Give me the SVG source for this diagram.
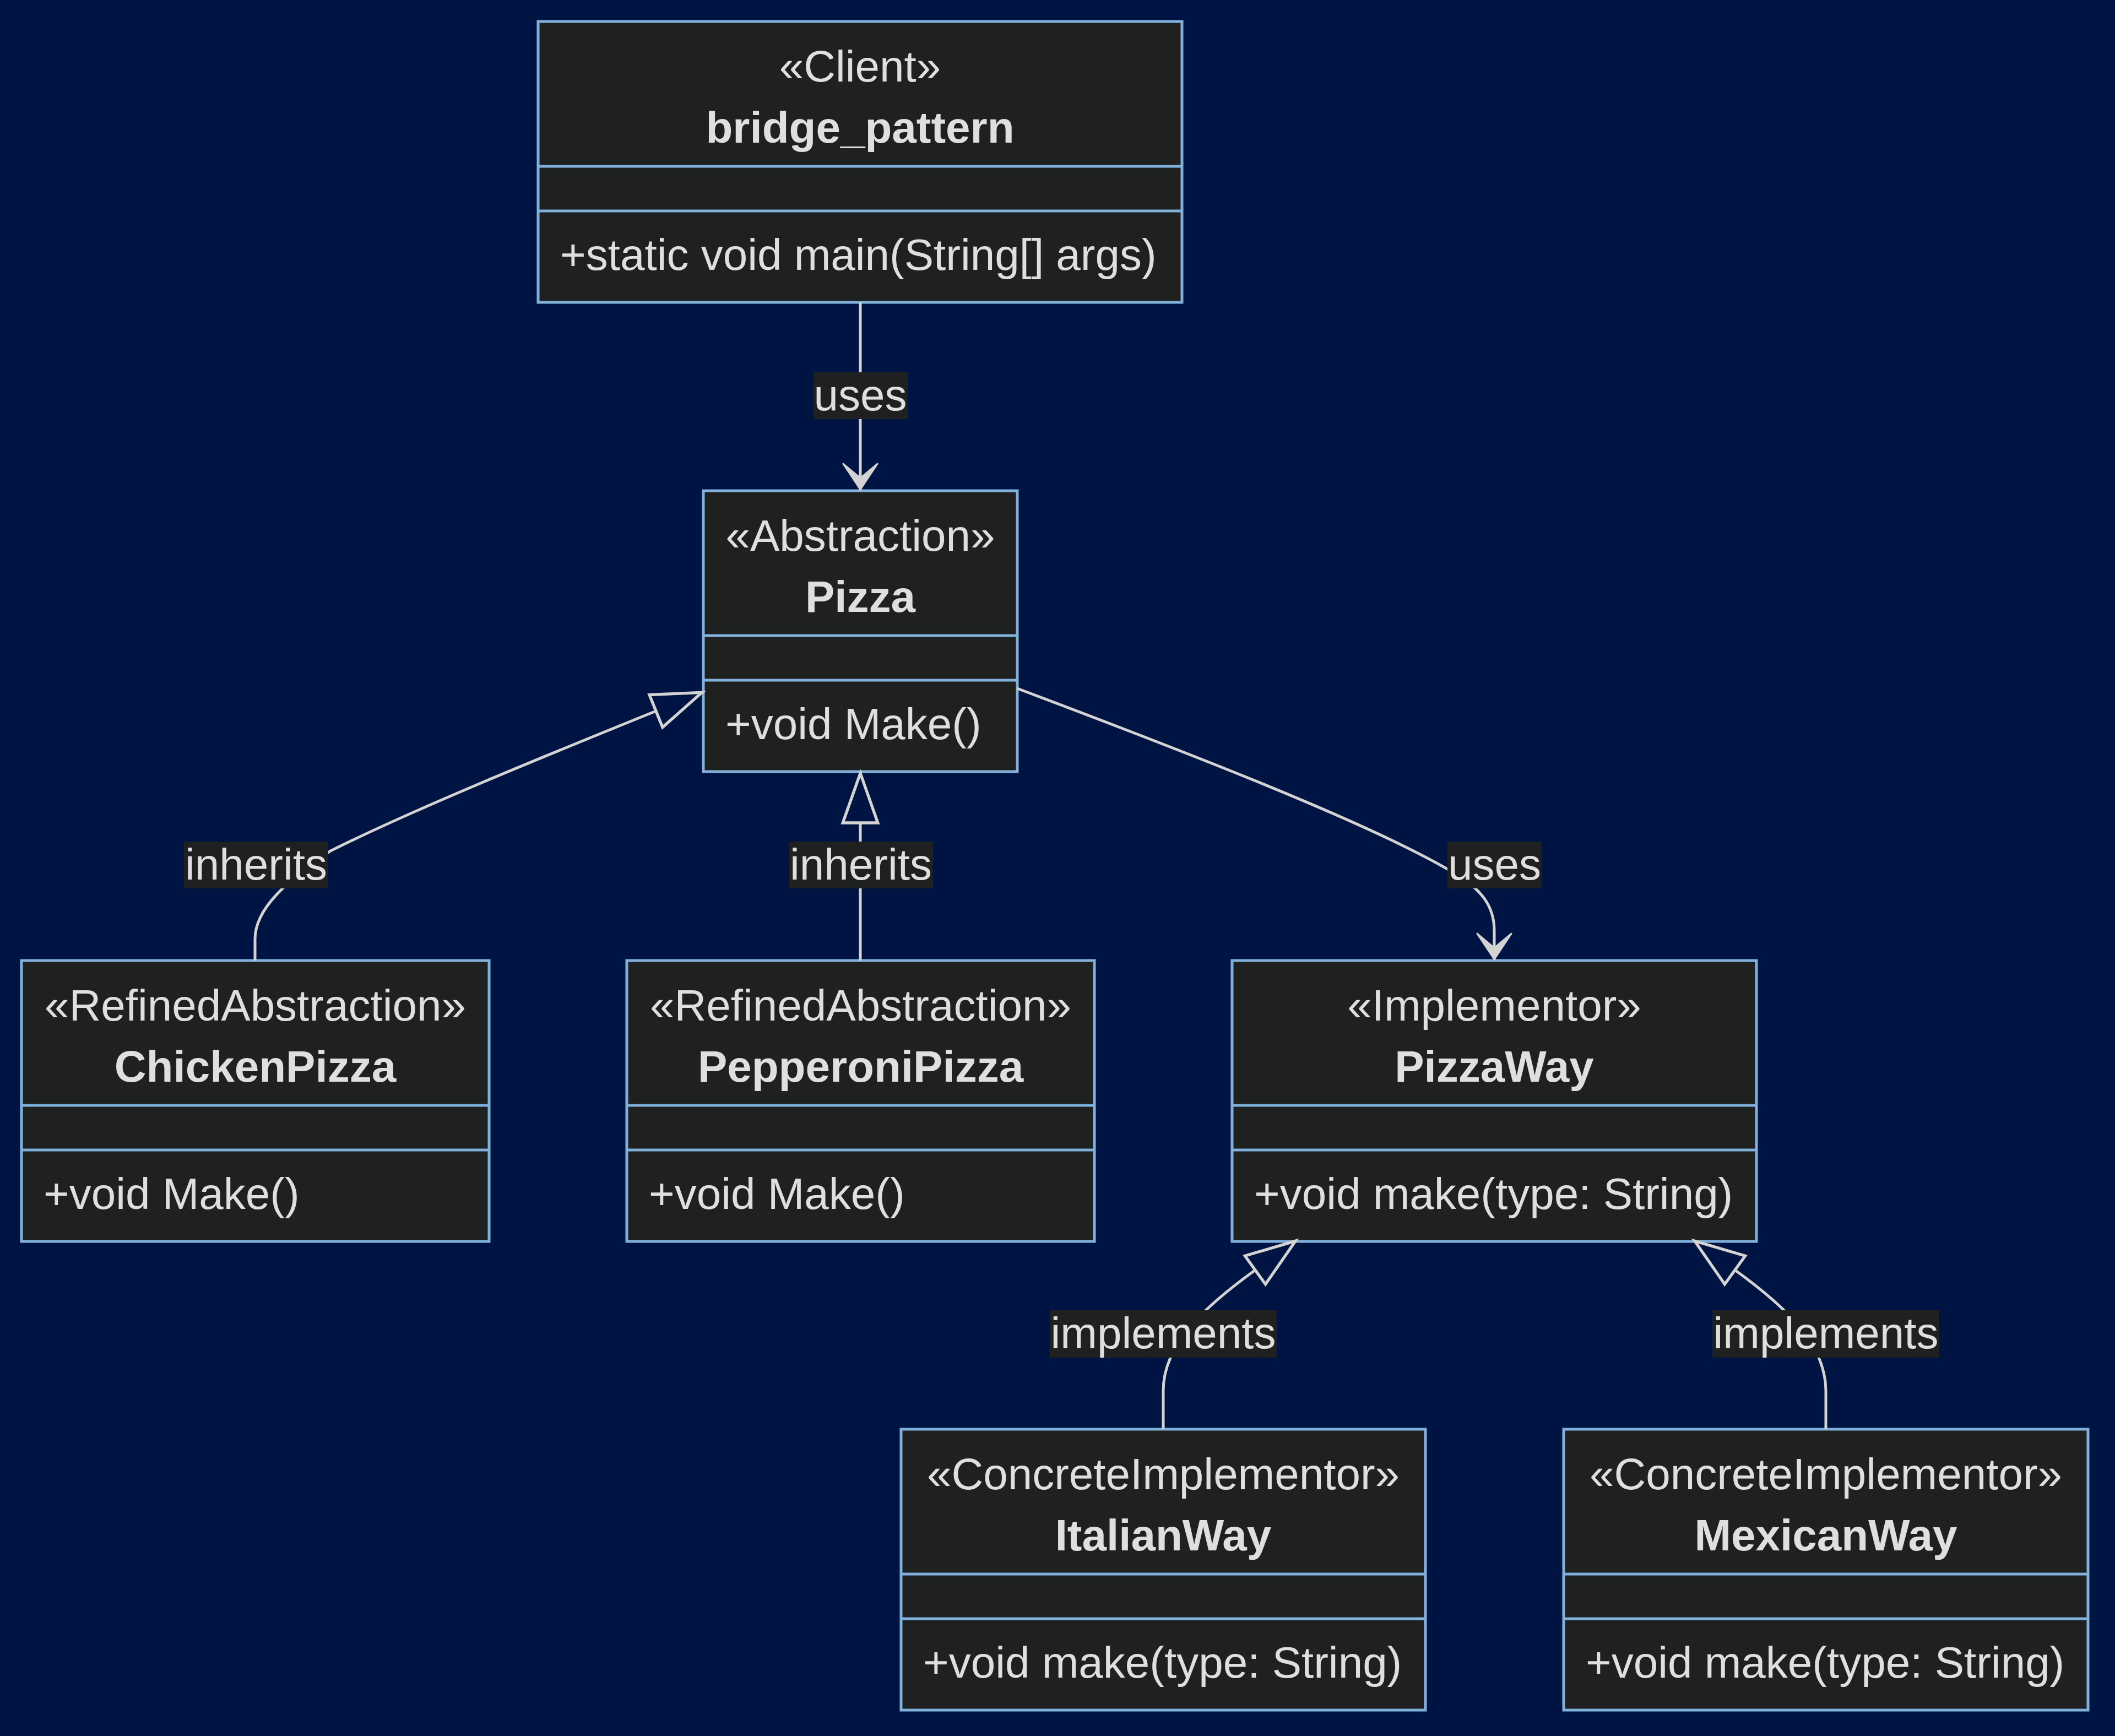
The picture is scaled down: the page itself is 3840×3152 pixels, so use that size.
<svg xmlns="http://www.w3.org/2000/svg" width="3840" height="3152" viewBox="0 0 3840 3152">
<defs>
<style>
.box{fill:#1f2020;stroke:#81b1db;stroke-width:5}
.div{stroke:#81b1db;stroke-width:5}
.t{font-family:"Liberation Sans",Arial,sans-serif;font-size:80px;fill:#e0dfdf}
.c{text-anchor:middle}
.b{font-weight:bold}
.rel{fill:none;stroke:#d3d3d3;stroke-width:5}
.lbl{fill:#1f2020}
</style>
<marker id="dep" viewBox="0 0 20 14" refX="18" refY="7" markerUnits="userSpaceOnUse" markerWidth="106" markerHeight="74.2" orient="auto">
<path d="M 18,7 L9,13 L14,7 L9,1 Z" fill="#d3d3d3" stroke="#d3d3d3" stroke-width="0.5"/>
</marker>
<marker id="ext" viewBox="0 0 20 14" refX="1" refY="7" markerUnits="userSpaceOnUse" markerWidth="106" markerHeight="74.2" orient="auto">
<path d="M 18,7 L1,13 L1,1 Z" fill="none" stroke="#d3d3d3" stroke-width="1"/>
</marker>
</defs>
<rect x="0" y="0" width="3840" height="3152" fill="#001443"/>

<g id="nodes">
<g id="bridge_pattern">
<rect class="box" x="977" y="39" width="1169" height="510"/>
<line class="div" x1="977" y1="302" x2="2146" y2="302"/>
<line class="div" x1="977" y1="383" x2="2146" y2="383"/>
<text class="t c" x="1561.5" y="148">«Client»</text>
<text class="t c b" x="1561.5" y="259">bridge_pattern</text>
<text class="t" x="1017" y="490">+static void main(String[] args)</text>
</g>
<g id="Pizza">
<rect class="box" x="1277" y="891" width="570" height="510"/>
<line class="div" x1="1277" y1="1154" x2="1847" y2="1154"/>
<line class="div" x1="1277" y1="1235" x2="1847" y2="1235"/>
<text class="t c" x="1562" y="1000">«Abstraction»</text>
<text class="t c b" x="1562" y="1111">Pizza</text>
<text class="t" x="1317" y="1342">+void Make()</text>
</g>
<g id="ChickenPizza">
<rect class="box" x="39" y="1744" width="849" height="510"/>
<line class="div" x1="39" y1="2007" x2="888" y2="2007"/>
<line class="div" x1="39" y1="2088" x2="888" y2="2088"/>
<text class="t c" x="463.5" y="1853">«RefinedAbstraction»</text>
<text class="t c b" x="463.5" y="1964">ChickenPizza</text>
<text class="t" x="79" y="2195">+void Make()</text>
</g>
<g id="PepperoniPizza">
<rect class="box" x="1138" y="1744" width="849" height="510"/>
<line class="div" x1="1138" y1="2007" x2="1987" y2="2007"/>
<line class="div" x1="1138" y1="2088" x2="1987" y2="2088"/>
<text class="t c" x="1562.5" y="1853">«RefinedAbstraction»</text>
<text class="t c b" x="1562.5" y="1964">PepperoniPizza</text>
<text class="t" x="1178" y="2195">+void Make()</text>
</g>
<g id="PizzaWay">
<rect class="box" x="2237" y="1744" width="952" height="510"/>
<line class="div" x1="2237" y1="2007" x2="3189" y2="2007"/>
<line class="div" x1="2237" y1="2088" x2="3189" y2="2088"/>
<text class="t c" x="2713" y="1853">«Implementor»</text>
<text class="t c b" x="2713" y="1964">PizzaWay</text>
<text class="t" x="2277" y="2195">+void make(type: String)</text>
</g>
<g id="ItalianWay">
<rect class="box" x="1636" y="2595" width="952" height="510"/>
<line class="div" x1="1636" y1="2858" x2="2588" y2="2858"/>
<line class="div" x1="1636" y1="2939" x2="2588" y2="2939"/>
<text class="t c" x="2112" y="2704">«ConcreteImplementor»</text>
<text class="t c b" x="2112" y="2815">ItalianWay</text>
<text class="t" x="1676" y="3046">+void make(type: String)</text>
</g>
<g id="MexicanWay">
<rect class="box" x="2839" y="2595" width="952" height="510"/>
<line class="div" x1="2839" y1="2858" x2="3791" y2="2858"/>
<line class="div" x1="2839" y1="2939" x2="3791" y2="2939"/>
<text class="t c" x="3315" y="2704">«ConcreteImplementor»</text>
<text class="t c b" x="3315" y="2815">MexicanWay</text>
<text class="t" x="2879" y="3046">+void make(type: String)</text>
</g>
</g>

<g id="connectors">
<path class="rel" d="M 1562,549 L 1562,889" marker-end="url(#dep)"/>
<path class="rel" d="M 463,1744 L 463,1705 C 463,1650 520,1600 600,1545 C 750,1470 991,1372 1191,1291" marker-end="url(#ext)"/>
<path class="rel" d="M 1562,1744 L 1562,1494" marker-end="url(#ext)"/>
<path class="rel" d="M 1847,1250 C 2147,1363 2490,1495 2640,1585 C 2690,1615 2713,1645 2713,1690 L 2713,1742" marker-end="url(#dep)"/>
<path class="rel" d="M 2112,2595 L 2112,2525 C 2112,2440 2189,2371 2279,2306" marker-end="url(#ext)"/>
<path class="rel" d="M 3315,2595 L 3315,2525 C 3315,2440 3240,2371 3150,2306" marker-end="url(#ext)"/>

<g id="label-uses-1">
<rect class="lbl" x="1477" y="676" width="171" height="85"/>
<text class="t c" x="1562" y="745">uses</text>
</g>
<g id="label-inherits-1">
<rect class="lbl" x="334" y="1528" width="262" height="85"/>
<text class="t c" x="465" y="1597">inherits</text>
</g>
<g id="label-inherits-2">
<rect class="lbl" x="1432" y="1528" width="262" height="85"/>
<text class="t c" x="1563" y="1597">inherits</text>
</g>
<g id="label-uses-2">
<rect class="lbl" x="2628" y="1528" width="171" height="85"/>
<text class="t c" x="2713.5" y="1597">uses</text>
</g>
<g id="label-implements-1">
<rect class="lbl" x="1906" y="2379" width="412" height="86"/>
<text class="t c" x="2112" y="2448">implements</text>
</g>
<g id="label-implements-2">
<rect class="lbl" x="3109" y="2379" width="412" height="86"/>
<text class="t c" x="3315" y="2448">implements</text>
</g>
</g>
</svg>
